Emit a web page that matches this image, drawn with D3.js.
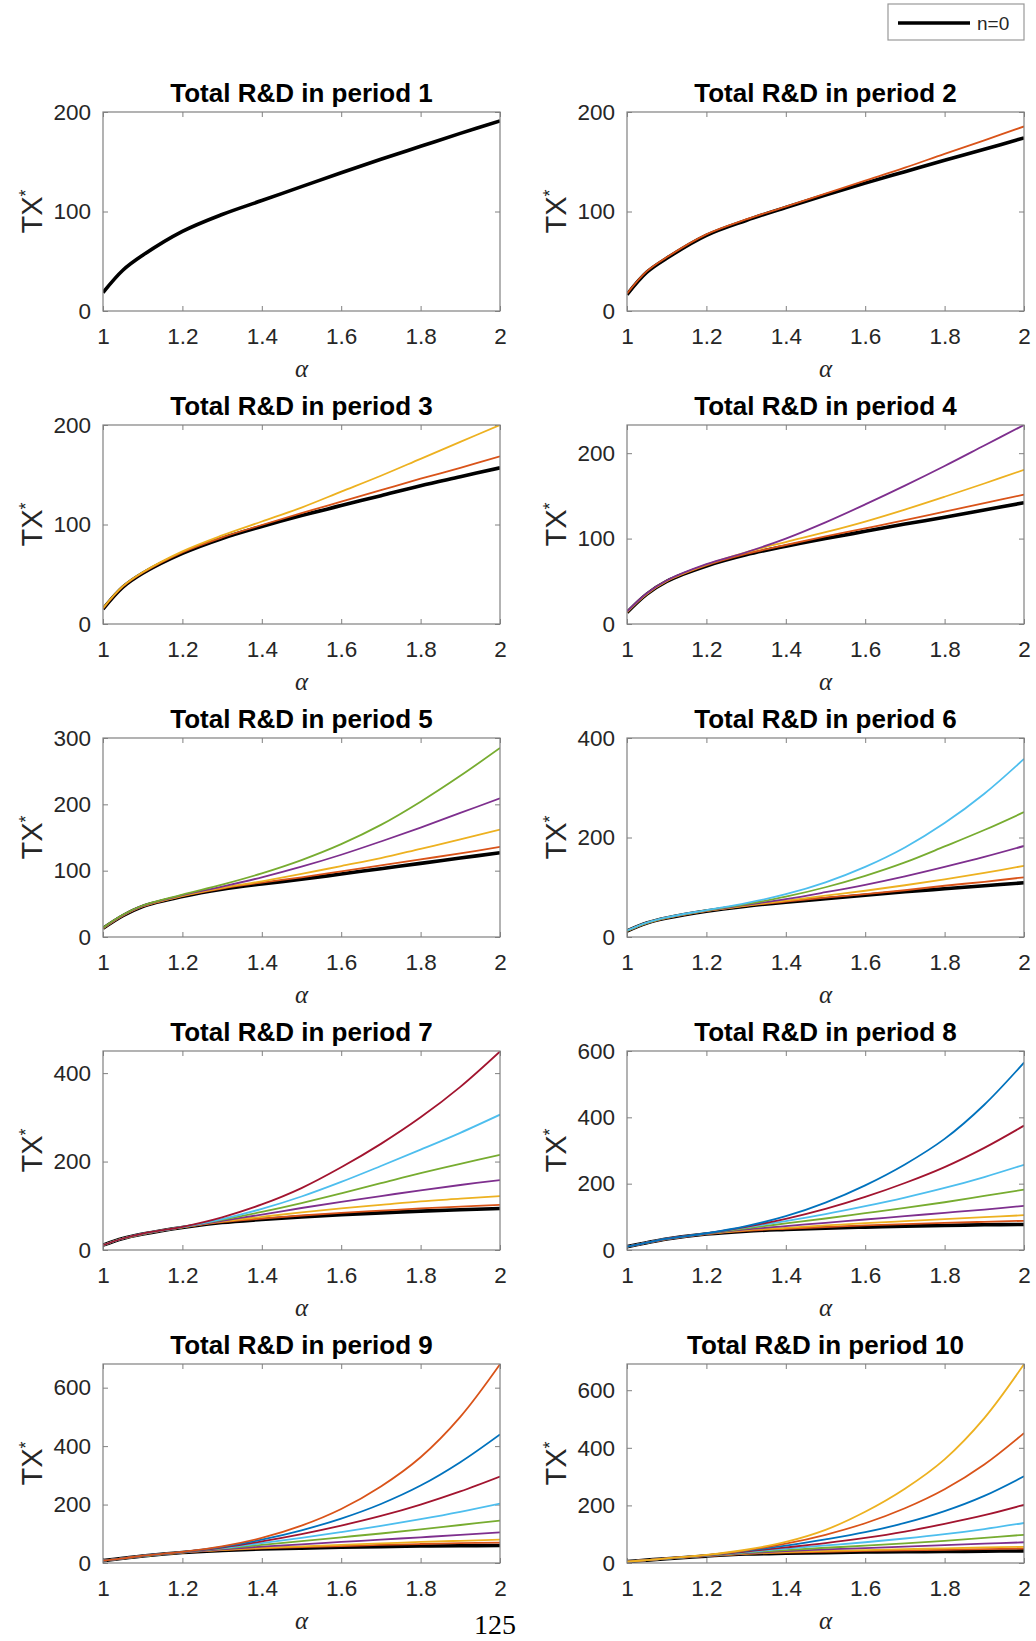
<!DOCTYPE html>
<html lang="en">
<head>
  <meta charset="UTF-8">
  <title>Total R&amp;D by period</title>
  <style>
    body { margin: 0; background: #fff; }
    text { font-family: "Liberation Sans", Arial, Helvetica, sans-serif; }
  </style>
</head>
<body>
<script src="https://cdn.jsdelivr.net/npm/d3@7"></script>
<script>
// alpha grid
const alpha = [1, 1.05, 1.1, 1.2, 1.3, 1.4, 1.5, 1.6, 1.7, 1.8, 1.9, 2];
const xTicks = [1, 1.2, 1.4, 1.6, 1.8, 2];

// one array per period, series n = 0, 1, 2, ...
const period1 = [
  [18.5, 41, 56, 80, 97, 111, 125, 139, 152.5, 165.5, 178.5, 191]
];
const period2 = [
  [16.5, 39, 53, 76, 91, 104, 116.5, 128.5, 140, 151.5, 162.5, 174],
  [17.5, 40, 54, 77, 92, 105, 118, 131, 144, 158, 171.5, 185.5]
];
const period3 = [
  [15, 37, 51, 71, 86, 98, 109, 119, 129, 139, 148, 157],
  [15.5, 37.5, 51.5, 72, 87, 99.5, 111.5, 123, 134.5, 146, 157, 168.5],
  [16, 38, 52, 73, 89, 103, 117, 133, 149, 166, 183, 200]
];
const period4 = [
  [13.5, 35, 50, 68, 81, 91, 100, 108.5, 117, 125, 133.5, 142],
  [14, 35, 50, 68.5, 82, 92.5, 102.5, 112, 121.5, 131.5, 141.5, 151.5],
  [14, 35.5, 50.5, 69.5, 84, 96, 107.5, 120, 134, 149, 164.5, 180.5],
  [14.5, 36, 51, 70, 84, 100, 119, 140, 162, 185, 209, 233]
];
const period5 = [
  [13, 32, 46, 61, 72, 80, 87, 95, 103, 111, 119, 127],
  [13, 32, 46, 61.5, 73, 82, 90, 99, 108, 117, 126, 136],
  [13, 32.5, 46.5, 62, 74, 84, 95, 107, 119, 133, 147, 162],
  [13.5, 33, 47, 63, 76, 90, 106, 124, 144, 165, 187, 209],
  [14, 33.5, 47.5, 64, 79, 96, 116, 140, 169, 204, 243, 285]
];
const period6 = [
  [12, 28, 38, 52, 62, 70, 77, 84, 91, 97, 103, 109],
  [12, 28, 38, 52, 62.5, 71, 79, 86, 94, 103, 111, 120],
  [12, 28, 38.5, 52.5, 63, 73, 83, 93, 104, 116, 129, 143],
  [12.5, 28.5, 39, 53, 64.5, 76, 90, 105, 122, 141, 161, 183],
  [12.5, 28.5, 39, 53.5, 66, 81, 100, 123, 150, 182, 215, 251],
  [13, 29, 39.5, 54, 68, 86, 110, 141, 180, 229, 288, 358]
];
const period7 = [
  [11, 26, 36, 51, 62, 69, 75, 80, 84, 88, 91, 94],
  [11, 26, 36, 51, 63, 71, 78, 84, 89, 94, 98, 102],
  [11, 26, 36, 51, 64.5, 75, 85, 94, 102, 110, 116, 122],
  [11, 26, 36, 51.5, 66, 80, 95, 109, 122, 135, 147, 158],
  [11, 26, 36.5, 52, 68, 86, 106, 128, 151, 174, 195, 215],
  [11, 26, 37, 52, 70, 93, 121, 154, 190, 227, 265, 306],
  [11, 26, 37, 52.5, 74, 103, 140, 187, 240, 300, 369, 449]
];
const period8 = [
  [10, 22, 33, 48, 57, 62, 66, 69, 72, 74, 76, 77],
  [10, 22, 33, 48, 58, 64, 69, 74, 78, 82, 85, 88],
  [10, 22, 33, 48.5, 60, 67, 74, 81, 87, 93, 99, 105],
  [10, 22, 33, 49, 62, 72, 82, 92, 102, 112, 122, 133],
  [10, 22, 33.5, 49.5, 65, 80, 95, 111, 127, 144, 163, 182],
  [10, 22, 34, 50, 68, 87, 108, 132, 158, 187, 220, 257],
  [10, 22, 34, 50, 70, 94, 124, 160, 202, 250, 308, 375],
  [10, 22, 34, 50.5, 72, 102, 143, 195, 258, 335, 438, 565]
];
const period9 = [
  [8, 16, 24, 36, 43, 48, 51, 54, 56, 58, 59, 60],
  [8, 16, 24, 36, 44, 50, 54, 58, 62, 65, 68, 70],
  [8, 16, 24, 36, 45, 52, 57, 62, 67, 72, 76, 80],
  [8, 16, 24, 36.5, 47, 56, 64, 72, 80, 88, 96, 105],
  [8, 16, 24, 37, 49, 62, 75, 88, 101, 115, 130, 145],
  [8, 16, 24.5, 37, 51, 68, 86, 106, 127, 150, 175, 203],
  [8, 16, 24.5, 37.5, 53, 74, 99, 128, 161, 200, 245, 296],
  [8, 16, 25, 37.5, 55, 80, 112, 152, 202, 265, 345, 440],
  [8, 16, 25, 38, 57, 86, 128, 185, 262, 362, 500, 680]
];
const period10 = [
  [5, 10, 15, 24, 31, 34, 36, 38, 39, 40, 41, 42],
  [5, 10, 15, 24, 32, 36, 39, 42, 44, 46, 48, 50],
  [5, 10, 15, 24.5, 33, 38, 42, 45, 48, 51, 54, 56],
  [5, 10, 15, 25, 34, 41, 47, 52, 57, 62, 67, 72],
  [5, 10, 15.5, 25.5, 36, 45, 53, 60, 68, 77, 87, 98],
  [5, 10, 15.5, 26, 38, 50, 61, 72, 85, 100, 118, 139],
  [5, 10, 16, 26.5, 40, 54, 69, 87, 109, 136, 166, 202],
  [5, 10, 16, 27, 42, 60, 82, 107, 139, 180, 233, 301],
  [5, 10, 16, 27.5, 44, 67, 98, 138, 190, 256, 342, 451],
  [5, 10, 16, 28, 46, 73, 115, 178, 258, 360, 503, 690]
];

const periods = [period1, period2, period3, period4, period5,
                 period6, period7, period8, period9, period10];
const yMax = [200, 200, 200, 233, 300, 400, 450, 600, 681, 691];
const yTicks = [
  [0, 100, 200], [0, 100, 200], [0, 100, 200], [0, 100, 200],
  [0, 100, 200, 300], [0, 200, 400], [0, 200, 400],
  [0, 200, 400, 600], [0, 200, 400, 600], [0, 200, 400, 600]
];
// matlab default colour order, n=0 is overridden with black
const colorOrder = ["#0072BD", "#D95319", "#EDB120", "#7E2F8E", "#77AC30", "#4DBEEE", "#A2142F"];

const W = 1036, H = 1641;
const colX = [103, 627];
const rowY = [112, 425, 738, 1051, 1364];
const pw = 397, ph = 199;
const axisGrey = "#808080", textCol = "#262626";

const svg = d3.select("body").append("svg")
  .attr("width", W).attr("height", H)
  .style("display", "block");
svg.append("rect").attr("width", W).attr("height", H).attr("fill", "#fff");

const line = d3.line().curve(d3.curveCatmullRom.alpha(0.5));

periods.forEach((series, i) => {
  const x0 = colX[i % 2], y0 = rowY[Math.floor(i / 2)];
  const g = svg.append("g").attr("transform", `translate(${x0},${y0})`);

  const x = d3.scaleLinear().domain([1, 2]).range([0, pw]);
  const y = d3.scaleLinear().domain([0, yMax[i]]).range([ph, 0]);

  g.append("clipPath").attr("id", "clip" + i)
    .append("rect").attr("width", pw).attr("height", ph);

  const fmt = d3.format("");
  const styleAxis = sel => {
    sel.select(".domain").remove();
    sel.selectAll(".tick line").attr("stroke", axisGrey);
    sel.selectAll("text").attr("fill", textCol).style("font-size", "22.5px")
      .style("font-family", '"Liberation Sans", Arial, sans-serif');
  };

  g.append("g").attr("transform", `translate(0,${ph})`)
    .call(d3.axisBottom(x).tickValues(xTicks).tickFormat(fmt)
      .tickSizeInner(-5).tickSizeOuter(0).tickPadding(17))
    .call(styleAxis);
  g.append("g")
    .call(d3.axisTop(x).tickValues(xTicks).tickFormat("")
      .tickSizeInner(-5).tickSizeOuter(0))
    .call(styleAxis);
  g.append("g")
    .call(d3.axisLeft(y).tickValues(yTicks[i]).tickFormat(fmt)
      .tickSizeInner(-5).tickSizeOuter(0).tickPadding(12))
    .call(styleAxis);
  g.append("g").attr("transform", `translate(${pw},0)`)
    .call(d3.axisRight(y).tickValues(yTicks[i]).tickFormat("")
      .tickSizeInner(-5).tickSizeOuter(0))
    .call(styleAxis);

  const lines = g.append("g").attr("clip-path", `url(#clip${i})`);
  series.forEach((vals, n) => {
    lines.append("path")
      .attr("d", line(vals.map((v, k) => [x(alpha[k]), y(v)])))
      .attr("fill", "none")
      .attr("stroke", n === 0 ? "#000" : colorOrder[n % colorOrder.length])
      .attr("stroke-width", n === 0 ? 3.6 : 1.8)
      .attr("stroke-linejoin", "round");
  });

  g.append("rect").attr("width", pw).attr("height", ph)
    .attr("fill", "none").attr("stroke", axisGrey).attr("stroke-width", 1.2);

  g.append("text")
    .attr("x", pw / 2).attr("y", -10)
    .attr("text-anchor", "middle")
    .style("font-size", "26px").style("font-weight", "bold")
    .attr("fill", "#000")
    .text("Total R&D in period " + (i + 1));

  g.append("text")
    .attr("x", pw / 2).attr("y", ph + 66)
    .attr("text-anchor", "middle")
    .style("font-family", '"Liberation Serif", "DejaVu Serif", serif')
    .style("font-style", "italic")
    .style("font-size", "25px")
    .attr("fill", textCol)
    .text("α");

  const ylab = g.append("text")
    .attr("transform", `translate(-61,${ph / 2}) rotate(-90)`)
    .attr("text-anchor", "middle")
    .style("font-size", "29px")
    .attr("fill", textCol);
  ylab.append("tspan").text("TX");
  ylab.append("tspan").attr("dy", -10).style("font-size", "18px").text("*");
});

// legend
const leg = svg.append("g");
leg.append("rect").attr("x", 888).attr("y", 4).attr("width", 136).attr("height", 36)
  .attr("fill", "#fff").attr("stroke", "#999").attr("stroke-width", 1.2);
leg.append("line").attr("x1", 898).attr("x2", 970).attr("y1", 23).attr("y2", 23)
  .attr("stroke", "#000").attr("stroke-width", 3.6);
leg.append("text").attr("x", 977).attr("y", 30)
  .style("font-size", "19px").attr("fill", textCol).text("n=0");

// page number
svg.append("text").attr("x", 495).attr("y", 1634)
  .attr("text-anchor", "middle")
  .style("font-family", '"Liberation Serif", "DejaVu Serif", serif')
  .style("font-size", "28px").attr("fill", "#000")
  .text("125");
</script>
</body>
</html>
